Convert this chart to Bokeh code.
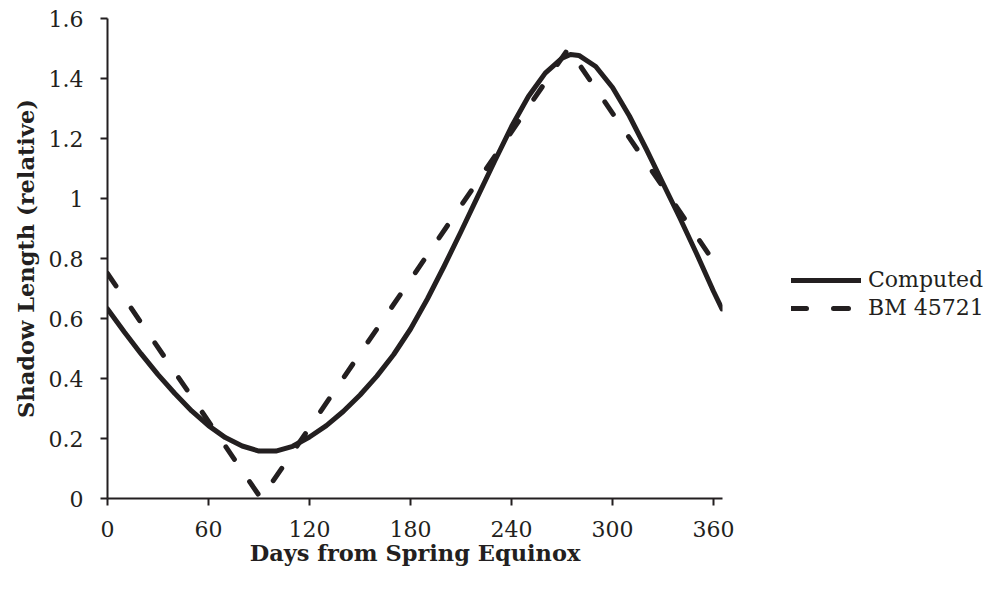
from bokeh.plotting import figure
from bokeh.models import Range1d, FixedTicker, Legend, LegendItem
from bokeh.embed import file_html
from bokeh.resources import INLINE

# ---- data ----
computed_days = [0, 10, 20, 30, 40, 50, 60, 70, 80, 90, 100, 110, 120, 130, 140, 150,
                 160, 170, 180, 190, 200, 210, 220, 230, 240, 250, 260, 270, 275, 280,
                 290, 300, 310, 320, 330, 340, 350, 360, 365]
computed_vals = [0.632, 0.555, 0.482, 0.413, 0.35, 0.292, 0.243, 0.203, 0.175, 0.158,
                 0.158, 0.174, 0.205, 0.243, 0.29, 0.345, 0.408, 0.48, 0.565, 0.665,
                 0.775, 0.89, 1.008, 1.125, 1.24, 1.34, 1.418, 1.468, 1.48, 1.477,
                 1.44, 1.37, 1.275, 1.165, 1.05, 0.935, 0.815, 0.69, 0.632]

bm_days = [0, 91.25, 273.75, 365]
bm_vals = [0.75, 0.0, 1.5, 0.75]

x_ticks = [0, 60, 120, 180, 240, 300, 360]
y_ticks = [0, 0.2, 0.4, 0.6, 0.8, 1.0, 1.2, 1.4, 1.6]
y_tick_labels = ["0", "0.2", "0.4", "0.6", "0.8", "1", "1.2", "1.4", "1.6"]

series_names = ["Computed", "BM 45721"]

INK = "#231F20"
FONT = "DejaVu Serif"

p = figure(width=973, height=576, output_backend="svg", toolbar_location=None,
           x_range=Range1d(0, 365.3), y_range=Range1d(0, 1.6),
           min_border_left=107, min_border_top=18, min_border_right=251, min_border_bottom=78)
p.frame_width = 615
p.frame_height = 480
p.outline_line_color = None
p.xgrid.visible = False
p.ygrid.visible = False

r1 = p.line(computed_days, computed_vals, line_color=INK, line_width=5,
            line_join="round", line_cap="round")
r2 = p.line(bm_days, bm_vals, line_color=INK, line_width=5, line_dash="15 27",
            line_join="round", line_cap="round")

for ax in (p.xaxis[0], p.yaxis[0]):
    ax.axis_line_color = INK
    ax.axis_line_width = 2
    ax.major_tick_line_color = INK
    ax.major_tick_line_width = 2
    ax.major_tick_out = 7
    ax.major_tick_in = 0
    ax.minor_tick_line_color = None
    ax.major_label_text_font = FONT
    ax.major_label_text_font_size = "22px"
    ax.major_label_text_color = INK
    ax.axis_label_text_font = FONT
    ax.axis_label_text_font_size = "22.5px"
    ax.axis_label_text_font_style = "bold"
    ax.axis_label_text_color = INK

p.xaxis.ticker = FixedTicker(ticks=x_ticks)
p.yaxis.ticker = FixedTicker(ticks=y_ticks)
p.yaxis.major_label_overrides = {t: l for t, l in zip(y_ticks, y_tick_labels)}
p.xaxis.axis_label = "Days from Spring Equinox"
p.yaxis.axis_label = "Shadow Length (relative)"
p.xaxis.major_label_standoff = 15
p.yaxis.major_label_standoff = 17
p.xaxis.axis_label_standoff = 0
p.yaxis.axis_label_standoff = 7

legend = Legend(items=[LegendItem(label=series_names[0], renderers=[r1]),
                       LegendItem(label=series_names[1], renderers=[r2])],
                location=(69, 178))
legend.glyph_width = 70
legend.glyph_height = 22
legend.spacing = 3
legend.label_standoff = 7
legend.padding = 10
legend.margin = 0
legend.border_line_color = None
legend.background_fill_alpha = 0
legend.label_text_font = FONT
legend.label_text_font_size = "22px"
legend.label_text_color = INK
p.add_layout(legend, "right")

open("out.html", "w").write(file_html(p, INLINE))
